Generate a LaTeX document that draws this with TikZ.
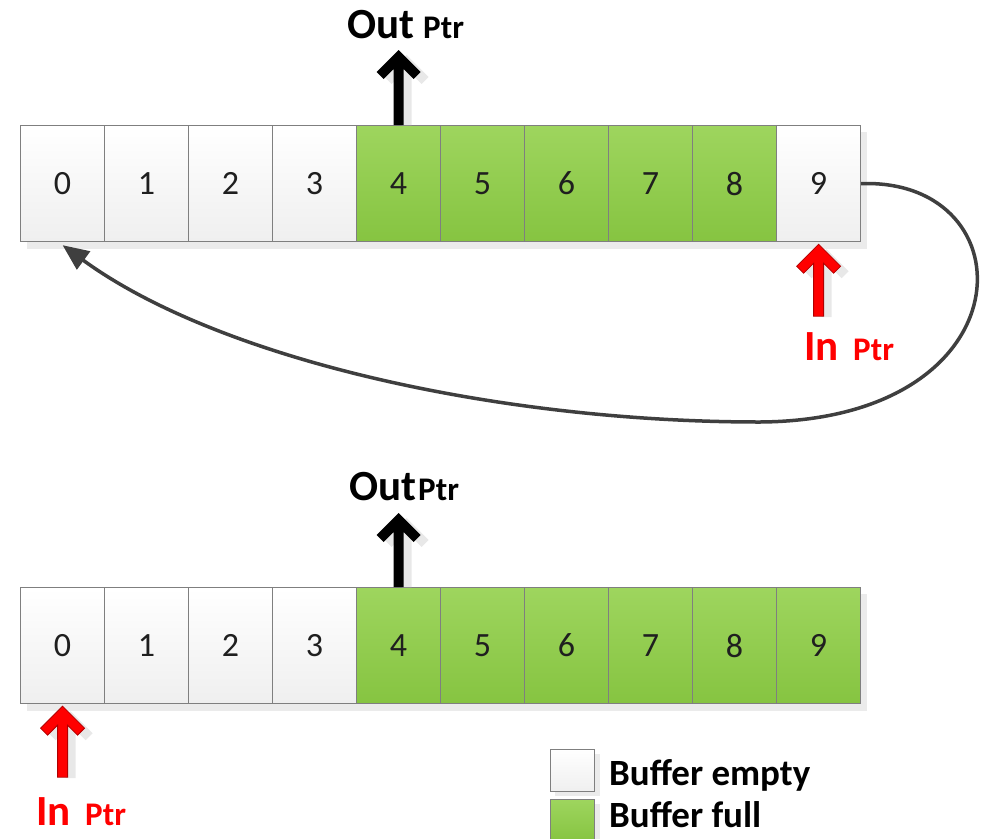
\documentclass[tikz,border=0pt]{standalone}
\usepackage{fontspec}
\setmainfont{Carlito}
\usetikzlibrary{arrows.meta,calc}
\definecolor{cellborder}{HTML}{7F7F7F}
\definecolor{fulltop}{HTML}{9ED55E}
\definecolor{fullbot}{HTML}{86C441}
\definecolor{emptybot}{HTML}{EFEFEF}
\definecolor{curvecol}{HTML}{3F3F3F}
\definecolor{ptrred}{HTML}{FF0000}
\definecolor{ptrredline}{HTML}{B00000}
\newcommand\ptrpoly[1]{(0,0) -- (22,22) -- (15,29) -- (5,19) -- (5,#1) -- (-5,#1) -- (-5,19) -- (-15,29) -- (-22,22) -- cycle}
\begin{document}
\begin{tikzpicture}[x=1pt,y=-1pt,
  cellbox/.style={draw=cellborder, line width=1.2pt, minimum width=84pt, minimum height=116pt,
    inner sep=0pt, anchor=north west, font=\fontsize{34}{36}\selectfont, text=black!88},
  emptycell/.style={cellbox, top color=white, bottom color=emptybot},
  fullcell/.style={cellbox, top color=fulltop, bottom color=fullbot},
  shadowbox/.style={fill=gray!16, draw=none},
  lblbig/.style={inner sep=0pt, anchor=base west, font=\bfseries\fontsize{43}{43}\selectfont},
  lblsmall/.style={inner sep=0pt, anchor=base west, font=\bfseries\fontsize{33}{33}\selectfont},
  legendtext/.style={inner sep=0pt, anchor=base west, font=\bfseries\fontsize{37}{37}\selectfont},
  curveline/.style={draw=curvecol, line width=3.5pt, -{Triangle[length=26pt,width=22pt]}},
  blackptr/.style={fill=black},
  redptr/.style={fill=ptrred, draw=ptrredline, line width=0.8pt},
  ptrshadow/.style={fill=gray!18}
]
\useasboundingbox (0,0) rectangle (987,838);

% row shadows
\fill[shadowbox] (27,132) rectangle (867,249);
\fill[shadowbox] (27,594) rectangle (867,711);

% top row
\foreach \i/\st in {0/emptycell,1/emptycell,2/emptycell,3/emptycell,4/fullcell,5/fullcell,6/fullcell,7/fullcell,8/fullcell,9/emptycell}{
  \node[\st] (a\i) at (20+84*\i,125) {\i};
}
% bottom row
\foreach \i/\st in {0/emptycell,1/emptycell,2/emptycell,3/emptycell,4/fullcell,5/fullcell,6/fullcell,7/fullcell,8/fullcell,9/fullcell}{
  \node[\st] (b\i) at (20+84*\i,587) {\i};
}

% pointer tips
\coordinate (outtipA) at ($(a4.north)+(0,-75)$);
\coordinate (intipA) at ($(a9.south)+(0,2)$);
\coordinate (outtipB) at ($(b4.north)+(0,-74)$);
\coordinate (intipB) at ($(b0.south)+(0,2)$);
\coordinate (wraptip) at ($(a0.south)+(0,3)$);

% pointer arrows
\begin{scope}[shift={(outtipA)}]
  \fill[ptrshadow] [shift={(8,5)}] \ptrpoly{70};
  \path[blackptr] \ptrpoly{75};
\end{scope}
\begin{scope}[shift={(intipA)}]
  \fill[ptrshadow] [shift={(8,5)}] \ptrpoly{68};
  \path[redptr] \ptrpoly{72};
\end{scope}
\begin{scope}[shift={(outtipB)}]
  \fill[ptrshadow] [shift={(8,5)}] \ptrpoly{69};
  \path[blackptr] \ptrpoly{74};
\end{scope}
\begin{scope}[shift={(intipB)}]
  \fill[ptrshadow] [shift={(8,5)}] \ptrpoly{67};
  \path[redptr] \ptrpoly{71};
\end{scope}

% labels
\node[lblbig] (outA) at (347,38) {Out};
\node[lblsmall] (outpA) at (423,38) {Ptr};
\node[lblbig] (outB) at (349,500) {Out};
\node[lblsmall] (outpB) at (418,500) {Ptr};
\node[lblbig, text=ptrred] (inA) at (804,360) {In};
\node[lblsmall, text=ptrred] (inpA) at (853,360) {Ptr};
\node[lblbig, text=ptrred] (inB) at (36,825) {In};
\node[lblsmall, text=ptrred] (inpB) at (85,825) {Ptr};

% wrap-around curve
\draw[curveline] (a9.east) .. controls (1030,178) and (1030,420) .. (760,422)
  .. controls (500,422) and (220,360) .. (wraptip);

% legend
\fill[shadowbox] (555,754) rectangle (600,796);
\fill[shadowbox] (555,804) rectangle (600,846);
\node[emptycell, minimum width=44pt, minimum height=42pt] (legE) at (550,749) {};
\node[fullcell, minimum width=44pt, minimum height=42pt] (legF) at (550,799) {};
\node[legendtext] (legEt) at (609,785) {Buffer empty};
\node[legendtext] (legFt) at (609,827) {Buffer full};
\end{tikzpicture}
\end{document}
